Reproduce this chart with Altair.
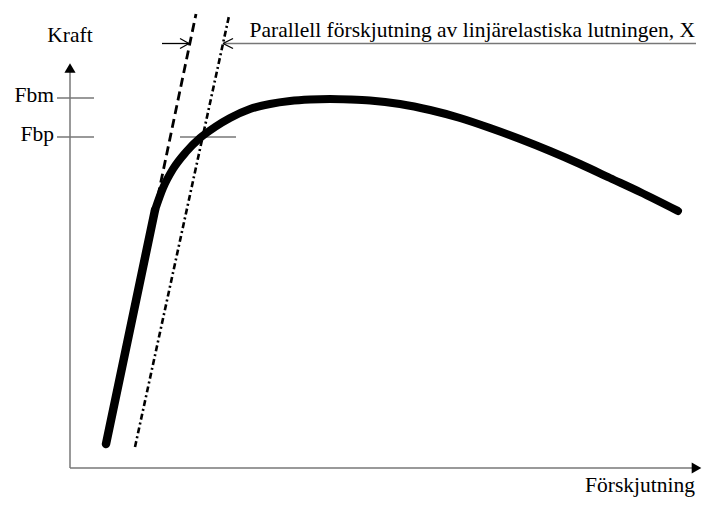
import altair as alt
import pandas as pd

# ---- data (schematic units: displacement d, force f) ----
# linear-elastic part
linear_d = [36, 85]
linear_f = [24, 258]
# plastic part
curve_d = [85, 93, 103, 116, 130, 145, 160, 180, 200, 220, 240, 260, 280, 300,
           330, 360, 390, 420, 450, 480, 510, 540, 570, 608]
curve_f = [258, 280, 299, 316, 330, 341, 350, 359, 364, 367, 368.5, 369, 368.5, 367.5,
           364, 358, 350, 340, 329, 317, 304, 290, 276, 257]

dashed_d = [85, 126]
dashed_f = [258, 454]

dashdot_d = [65, 159]
dashdot_f = [21, 452]

# gray guide segments: axes, tick marks, annotation underline
gray_x = [0, 0, -13, -13, 110, 153]
gray_y = [0, 0, 370, 331, 331, 424.5]
gray_x2 = [622, 0, 24, 24, 166, 626]
gray_y2 = [0, 400, 370, 331, 331, 424.5]

# black arrow segments (shafts + barbs)
arr_x = [92, 110, 110, 163, 163]
arr_y = [424.5, 429.5, 419.5, 429.5, 419.5]
arr_x2 = [119, 119, 119, 153, 153]
arr_y2 = [424.5, 424.5, 424.5, 424.5, 424.5]

head_d = [626.5, 0]
head_f = [0, 400]
head_shape = ["triangle-right", "triangle-up"]

labels = ["Kraft", "Fbm", "Fbp", "Förskjutning", "Parallell förskjutning av linjärelastiska lutningen, X"]
label_d = [0, -16, -16, 625, 625]
label_f = [426, 366, 327, -24, 431]
label_align = ["center", "right", "right", "right", "right"]

xs = alt.Scale(domain=[-62, 632], nice=False, zero=False)
ys = alt.Scale(domain=[-30, 460], nice=False, zero=False)

def X(f="d"):
    return alt.X(f, type="quantitative", scale=xs, axis=None)

def Y(f="f"):
    return alt.Y(f, type="quantitative", scale=ys, axis=None)

gray = alt.Chart(pd.DataFrame({"d": gray_x, "f": gray_y, "d2": gray_x2, "f2": gray_y2})).mark_rule(
    color="#777777", strokeWidth=1.5).encode(x=X(), y=Y(), x2="d2", y2="f2")

arrows = alt.Chart(pd.DataFrame({"d": arr_x, "f": arr_y, "d2": arr_x2, "f2": arr_y2})).mark_rule(
    color="#000000", strokeWidth=1.3).encode(x=X(), y=Y(), x2="d2", y2="f2")

heads = alt.Chart(pd.DataFrame({"d": head_d, "f": head_f, "s": head_shape})).mark_point(
    filled=True, color="#000000", size=125, opacity=1).encode(
    x=X(), y=Y(), shape=alt.Shape("s:N", scale=None))

dashed = alt.Chart(pd.DataFrame({"d": dashed_d, "f": dashed_f})).mark_line(
    color="#000000", strokeWidth=2.8, strokeDash=[9, 5]).encode(x=X(), y=Y())

dashdot = alt.Chart(pd.DataFrame({"d": dashdot_d, "f": dashdot_f})).mark_line(
    color="#000000", strokeWidth=2.6, strokeDash=[6, 3, 2, 3]).encode(x=X(), y=Y())

linear = alt.Chart(pd.DataFrame({"d": linear_d, "f": linear_f})).mark_line(
    color="#000000", strokeWidth=8.5, strokeCap="round").encode(x=X(), y=Y())

curve = alt.Chart(pd.DataFrame({"d": curve_d, "f": curve_f})).mark_line(
    color="#000000", strokeWidth=8, strokeCap="round", strokeJoin="round",
    interpolate="monotone").encode(x=X(), y=Y())

ldf = pd.DataFrame({"t": labels, "d": label_d, "f": label_f, "a": label_align})
texts = []
for a in ["center", "right"]:
    texts.append(alt.Chart(ldf[ldf["a"] == a]).mark_text(
        font="Liberation Serif", fontSize=21.5, color="#000000", align=a,
        baseline="alphabetic").encode(x=X(), y=Y(), text="t:N"))

chart = alt.layer(gray, arrows, heads, dashed, dashdot, linear, curve, *texts).properties(
    width=694, height=490, padding=0, autosize="none"
).configure_view(stroke=None)

chart.save("out.html", embed_options={"renderer": "svg", "actions": False})
